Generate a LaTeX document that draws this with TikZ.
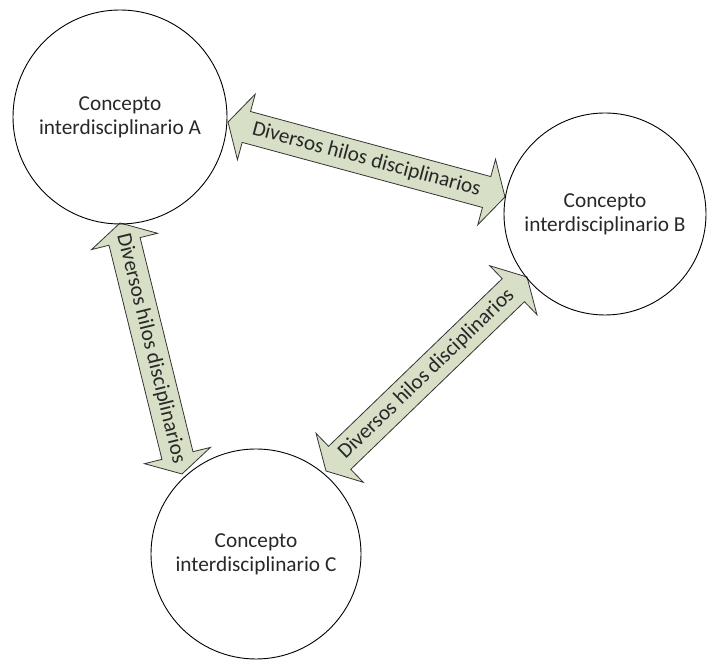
\documentclass[tikz,border=0pt]{standalone}
\usepackage{fontspec}
\setmainfont{Carlito}
\definecolor{arrowfill}{RGB}{215,224,198}
\definecolor{txt}{RGB}{40,40,40}
\tikzset{
  concept/.style={circle, draw=black, line width=0.9pt, minimum size=#1, inner sep=0pt,
    align=center, font=\fontsize{21.3}{24}\selectfont, text=txt},
  linkarrow/.style={draw=black!80, fill=arrowfill, line width=0.8pt, line join=miter},
  linklabel/.style={font=\fontsize{21.3}{24}\selectfont, text=txt, sloped, inner sep=0pt}
}
% double-headed block arrow of length #1 along local x axis
\newcommand\linkshape[1]{(0,0) -- (19,34) -- (19,16) -- (#1-19,16) -- (#1-19,34) -- (#1,0)
  -- (#1-19,-34) -- (#1-19,-16) -- (19,-16) -- (19,-34) -- cycle}
\begin{document}
\begin{tikzpicture}[x=1pt,y=1pt]
\useasboundingbox (0,0) rectangle (707,660);
% arrow end points
\coordinate (ab1) at (228,538);
\coordinate (ab2) at (505,463);
\coordinate (ac1) at (120,437);
\coordinate (ac2) at (182,186);
\coordinate (bc1) at (326,189);
\coordinate (bc2) at (527,383);
% arrows
\begin{scope}[shift={(ab1)}, rotate=-15.15]
  \draw[linkarrow] \linkshape{286.97};
\end{scope}
\begin{scope}[shift={(ac1)}, rotate=-76.12]
  \draw[linkarrow] \linkshape{258.54};
\end{scope}
\begin{scope}[shift={(bc1)}, rotate=43.98]
  \draw[linkarrow] \linkshape{279.35};
\end{scope}
\path (ab1) -- (ab2) node[midway, linklabel] (lab) {Diversos hilos disciplinarios};
\path (ac1) -- (ac2) node[midway, linklabel] (lac) {Diversos hilos disciplinarios};
\path (bc1) -- (bc2) node[midway, linklabel] (lbc) {Diversos hilos disciplinarios};
% concepts
\node[concept=214pt] (A) at (120,543) {Concepto\\interdisciplinario A};
\node[concept=202pt] (B) at (605,446) {Concepto\\interdisciplinario B};
\node[concept=210pt] (C) at (256,106) {Concepto\\interdisciplinario C};
\end{tikzpicture}
\end{document}
